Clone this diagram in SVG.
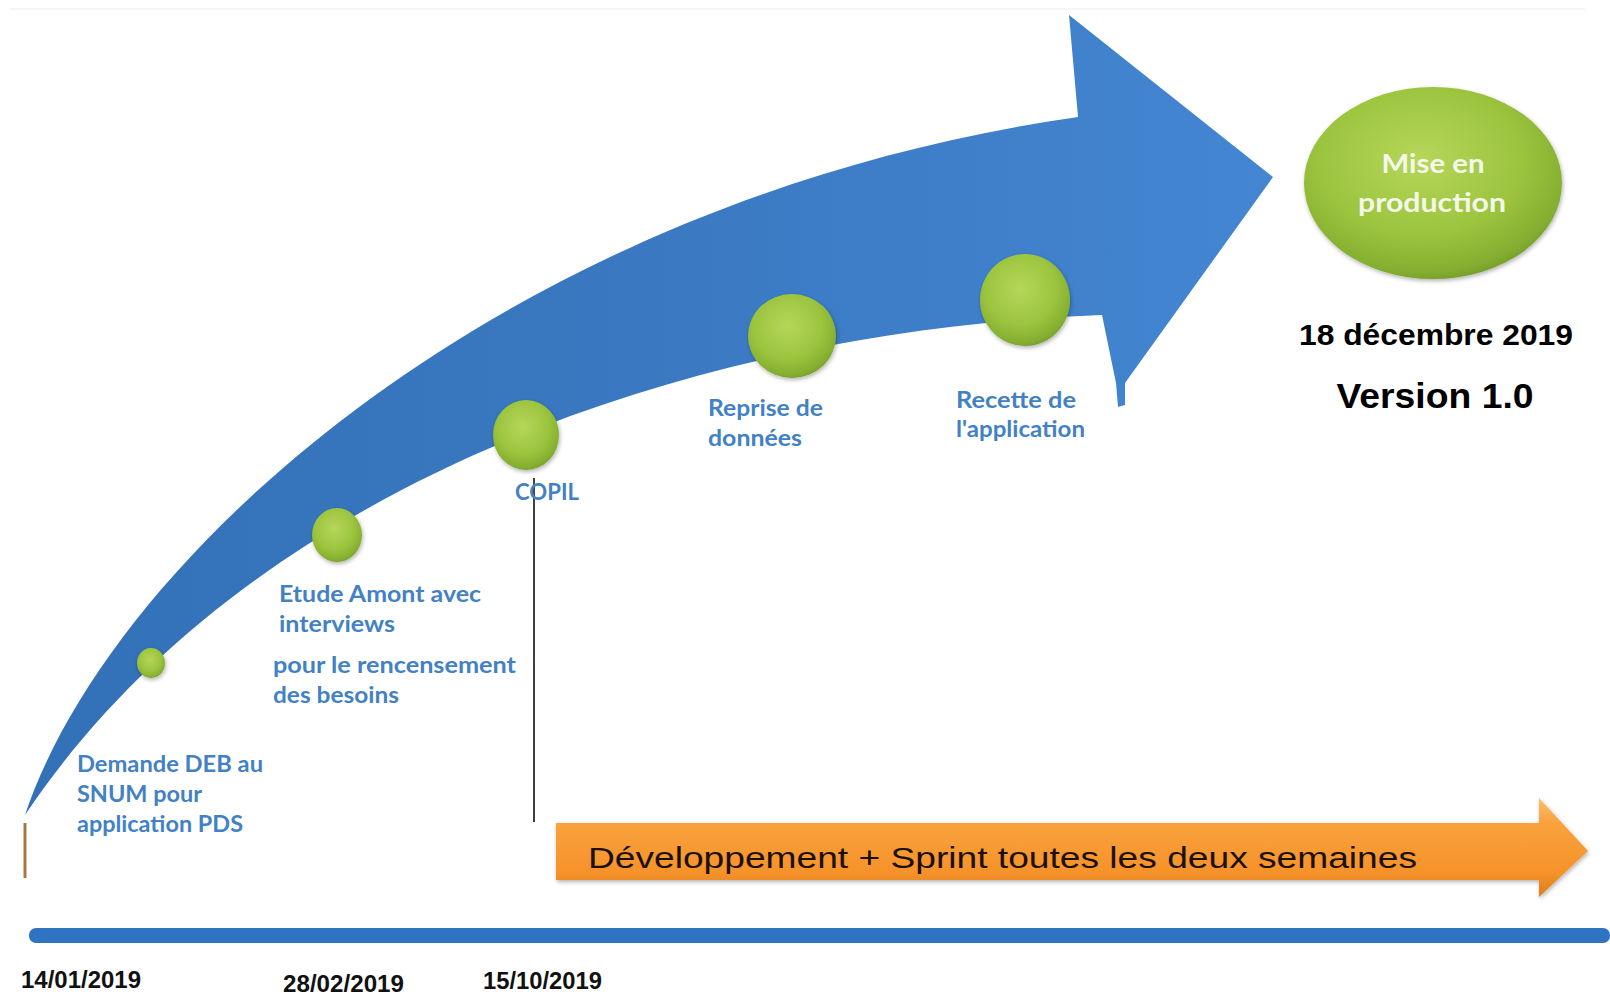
<svg xmlns="http://www.w3.org/2000/svg" width="1610" height="995" viewBox="0 0 1610 995">
<defs>
<linearGradient id="blueArrow" x1="0" y1="0" x2="1273" y2="0" gradientUnits="userSpaceOnUse">
<stop offset="0" stop-color="#3270b7"/>
<stop offset="0.5" stop-color="#3a78c1"/>
<stop offset="1" stop-color="#4486d2"/>
</linearGradient>
<radialGradient id="green" cx="0.45" cy="0.38" r="0.65">
<stop offset="0" stop-color="#b6d65a"/>
<stop offset="0.6" stop-color="#9cc43e"/>
<stop offset="0.9" stop-color="#84ae30"/>
<stop offset="1" stop-color="#6f9a28"/>
</radialGradient>
<linearGradient id="orange" x1="0" y1="0" x2="0" y2="1">
<stop offset="0" stop-color="#fcc070"/>
<stop offset="0.25" stop-color="#f9a23c"/>
<stop offset="0.75" stop-color="#f6922a"/>
<stop offset="1" stop-color="#df7d1c"/>
</linearGradient>
<filter id="shadow" x="-20%" y="-20%" width="140%" height="140%">
<feDropShadow dx="1" dy="2" stdDeviation="2" flood-color="#000" flood-opacity="0.3"/>
</filter>
<style>
.lbl{font-family:Lato,"Open Sans","Liberation Sans",sans-serif;font-weight:bold;font-size:22px;fill:#4381c5}
.date{font-family:"Liberation Sans",Arial,sans-serif;font-weight:bold;font-size:23px;fill:#111}
.big{font-family:"Liberation Sans",Arial,sans-serif;font-weight:bold;fill:#000;text-anchor:middle}
.dot{fill:url(#green);filter:url(#shadow)}
</style>
</defs>
<rect width="1610" height="995" fill="#ffffff"/>
<line x1="10" y1="9" x2="1585" y2="9" stroke="#f5f5f5" stroke-width="2"/>

<g id="main-arrow">
<path d="M25,815 C110,560 500,200 1078,117 L1069,15 L1273,177 L1125,383 L1125,405 L1118,407 L1116,383 L1102,315 C700,330 250,480 25,815 Z" fill="url(#blueArrow)"/>
</g>

<g id="connectors">
<line x1="534" y1="478" x2="534" y2="822" stroke="#111" stroke-width="1.6"/>
<line x1="25" y1="823" x2="25" y2="878" stroke="#a87648" stroke-width="3"/>
</g>

<g id="timeline">
<rect x="29" y="928" width="1581" height="15" rx="7" fill="#2e74c0"/>
</g>

<g id="step-demande">
<ellipse class="dot" cx="151" cy="663" rx="14" ry="15"/>
<text class="lbl" x="77" y="772" textLength="186" lengthAdjust="spacingAndGlyphs">Demande DEB au</text>
<text class="lbl" x="77" y="802" textLength="125" lengthAdjust="spacingAndGlyphs">SNUM pour</text>
<text class="lbl" x="77" y="832" textLength="166" lengthAdjust="spacingAndGlyphs">application PDS</text>
</g>

<g id="step-etude">
<ellipse class="dot" cx="337" cy="535" rx="25" ry="27"/>
<text class="lbl" x="279" y="602" textLength="202" lengthAdjust="spacingAndGlyphs">Etude Amont avec</text>
<text class="lbl" x="279" y="632" textLength="116" lengthAdjust="spacingAndGlyphs">interviews</text>
<text class="lbl" x="273" y="673" textLength="243" lengthAdjust="spacingAndGlyphs">pour le rencensement</text>
<text class="lbl" x="273" y="703" textLength="126" lengthAdjust="spacingAndGlyphs">des besoins</text>
</g>

<g id="step-copil">
<ellipse class="dot" cx="526" cy="435" rx="33" ry="35"/>
<text class="lbl" x="515" y="500" textLength="64" lengthAdjust="spacingAndGlyphs">COPIL</text>
</g>

<g id="step-reprise">
<ellipse class="dot" cx="792" cy="336" rx="44" ry="42"/>
<text class="lbl" x="708" y="416" textLength="115" lengthAdjust="spacingAndGlyphs">Reprise de</text>
<text class="lbl" x="708" y="446" textLength="94" lengthAdjust="spacingAndGlyphs">données</text>
</g>

<g id="step-recette">
<ellipse class="dot" cx="1025" cy="300" rx="45" ry="46"/>
<text class="lbl" x="956" y="408" textLength="120" lengthAdjust="spacingAndGlyphs">Recette de</text>
<text class="lbl" x="956" y="437" textLength="129" lengthAdjust="spacingAndGlyphs">l'application</text>
</g>

<g id="step-production">
<ellipse class="dot" cx="1433" cy="183" rx="129" ry="96"/>
<text x="1433" y="173" text-anchor="middle" font-family="Lato,'Open Sans',sans-serif" font-weight="bold" font-size="27" fill="#f4f8ea" textLength="103" lengthAdjust="spacingAndGlyphs">Mise en</text>
<text x="1432" y="212" text-anchor="middle" font-family="Lato,'Open Sans',sans-serif" font-weight="bold" font-size="27" fill="#f4f8ea" textLength="148" lengthAdjust="spacingAndGlyphs">production</text>
<text class="big" x="1436" y="345" font-size="29" textLength="274" lengthAdjust="spacingAndGlyphs">18 décembre 2019</text>
<text class="big" x="1435" y="408" font-size="35" textLength="197" lengthAdjust="spacingAndGlyphs">Version 1.0</text>
</g>

<g id="dev-arrow">
<path d="M556,823 L1539,823 L1539,798 L1588,851 L1539,897 L1539,880 L556,880 Z" fill="url(#orange)" filter="url(#shadow)"/>
<text x="588" y="868" font-family="'Liberation Sans',Arial,sans-serif" font-size="30" fill="#1a1005" textLength="829" lengthAdjust="spacingAndGlyphs">Développement + Sprint toutes les deux semaines</text>
</g>

<g id="dates">
<text class="date" x="21" y="988" textLength="120" lengthAdjust="spacingAndGlyphs">14/01/2019</text>
<text class="date" x="283" y="992" textLength="121" lengthAdjust="spacingAndGlyphs">28/02/2019</text>
<text class="date" x="483" y="989" textLength="119" lengthAdjust="spacingAndGlyphs">15/10/2019</text>
</g>
</svg>
